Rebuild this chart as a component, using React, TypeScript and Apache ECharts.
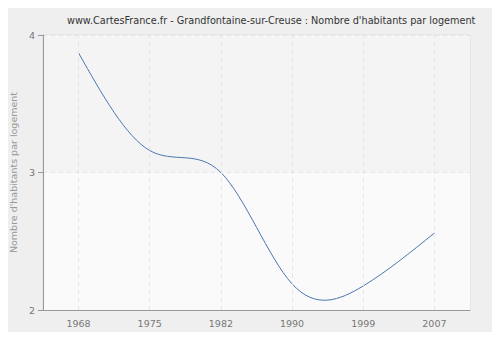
import React, { useEffect, useRef } from "react";
import * as echarts from "echarts";

const titleText = "www.CartesFrance.fr - Grandfontaine-sur-Creuse : Nombre d'habitants par logement";
const yAxisName = "Nombre d'habitants par logement";
const years = ["1968", "1975", "1982", "1990", "1999", "2007"];
const values = [3.87, 3.16, 3.0, 2.19, 2.175, 2.56];
const yTicks = { min: 2, max: 4, interval: 1 };

// Natural cubic spline through pixel points (uniform x spacing), returned as SVG path data.
function splinePath(pts: number[][]): string {
  const n = pts.length;
  if (n < 2) return "";
  const y = pts.map((p) => p[1]);
  const M = new Array(n).fill(0);
  if (n > 2) {
    const m = n - 2;
    const c: number[] = new Array(m).fill(0);
    const d: number[] = new Array(m).fill(0);
    for (let k = 0; k < m; k++) {
      const i = k + 1;
      const rhs = 6 * (y[i + 1] - 2 * y[i] + y[i - 1]);
      if (k === 0) {
        c[k] = 1 / 4;
        d[k] = rhs / 4;
      } else {
        const den = 4 - c[k - 1];
        c[k] = 1 / den;
        d[k] = (rhs - d[k - 1]) / den;
      }
    }
    for (let k = m - 1; k >= 0; k--) {
      M[k + 1] = d[k] - (k < m - 1 ? c[k] * M[k + 2] : 0);
    }
  }
  let s = `M ${pts[0][0]} ${pts[0][1]}`;
  for (let i = 0; i < n - 1; i++) {
    const [x0, y0] = pts[i];
    const [x1, y1] = pts[i + 1];
    const h = x1 - x0;
    const dy = y1 - y0;
    const d0 = dy - (2 * M[i] + M[i + 1]) / 6;
    const d1 = dy + (M[i] + 2 * M[i + 1]) / 6;
    s += ` C ${x0 + h / 3} ${y0 + d0 / 3} ${x1 - h / 3} ${y1 - d1 / 3} ${x1} ${y1}`;
  }
  return s;
}

export default function App() {
  const ref = useRef<HTMLDivElement>(null);
  useEffect(() => {
    if (!ref.current) return;
    const chart = echarts.init(ref.current, null, { renderer: "svg" });
    const font = "DejaVu Sans";
    chart.setOption({
      animation: false,
      backgroundColor: "#ffffff",
      graphic: [
        {
          type: "rect",
          shape: { x: 5, y: 5, width: 489, height: 328, r: 6 },
          style: { fill: "#efefef", stroke: "#dcdcdc", lineWidth: 1, shadowColor: "rgba(0,0,0,0.12)", shadowBlur: 3, shadowOffsetX: 1, shadowOffsetY: 1 },
          z: -10,
        },
      ],
      title: {
        text: titleText,
        left: 62,
        top: 10,
        textStyle: { fontFamily: font, fontSize: 9.7, fontWeight: "normal", color: "#333" },
      },
      grid: {
        left: 40, top: 35, right: 30, bottom: 30,
        show: true, backgroundColor: "#ffffff", borderColor: "#dddddd", borderWidth: 1,
      },
      xAxis: {
        type: "category",
        data: years,
        boundaryGap: true,
        axisLine: { lineStyle: { color: "#999999", width: 1 } },
        axisTick: { alignWithLabel: true, length: 5, lineStyle: { color: "#999999" } },
        axisLabel: { fontFamily: font, fontSize: 9.5, color: "#777777", margin: 8 },
        splitLine: { show: false },
      },
      yAxis: {
        type: "value",
        min: yTicks.min, max: yTicks.max, interval: yTicks.interval,
        name: yAxisName,
        nameLocation: "middle",
        nameGap: 24,
        nameTextStyle: { fontFamily: font, fontSize: 9.5, color: "#999999" },
        axisLine: { show: true, lineStyle: { color: "#999999", width: 1 } },
        axisTick: { show: true, length: 5, lineStyle: { color: "#999999" } },
        axisLabel: { fontFamily: font, fontSize: 9.5, color: "#777777", margin: 8 },
        splitLine: { show: true, lineStyle: { color: "#e4e4e4", type: [4, 4] } },
        splitArea: { show: true, areaStyle: { color: ["#fafafa", "#f4f4f4"] } },
      },
      series: [
        {
          type: "line",
          data: values,
          symbol: "none",
          lineStyle: { opacity: 0 },
          silent: true,
          markLine: {
            silent: true,
            symbol: "none",
            label: { show: false },
            lineStyle: { color: "#e4e4e4", type: [4, 4], width: 1, opacity: 1 },
            data: years.map((y) => ({ xAxis: y })),
          },
          z: 1,
        },
        {
          type: "custom",
          data: values.map((v, i) => [i, v]),
          encode: { x: 0, y: 1 },
          z: 3,
          renderItem: (params: any, api: any) => {
            if (params.dataIndex !== 0) return null;
            const pts = values.map((v, i) => api.coord([i, v]));
            return {
              type: "path",
              shape: { pathData: splinePath(pts) },
              style: { stroke: "#4a78b0", fill: "none", lineWidth: 1 },
            };
          },
        },
      ],
    });
    return () => chart.dispose();
  }, []);
  return <div ref={ref} style={{ width: 500, height: 340, margin: -8 }} />;
}
